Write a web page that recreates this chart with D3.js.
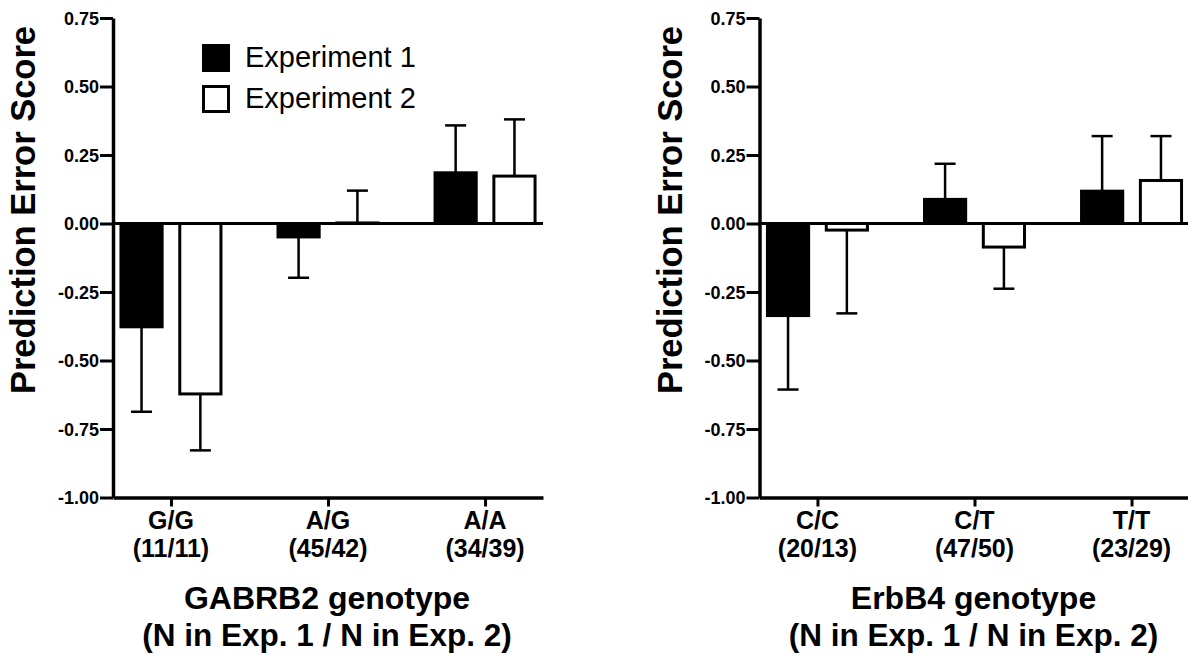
<!DOCTYPE html>
<html>
<head>
<meta charset="utf-8">
<script src="https://cdn.jsdelivr.net/npm/d3@7"></script>
<style>
  body { margin: 0; background: #fff; }
  svg text { font-family: "Liberation Sans", Arial, sans-serif; fill: #000; }
</style>
</head>
<body>
<svg id="chart" width="1188" height="657"></svg>
<script>
// -------------------- DATA --------------------
const series = ["Experiment 1", "Experiment 2"];
const yTicks = [-1.00, -0.75, -0.50, -0.25, 0.00, 0.25, 0.50, 0.75];

// GABRB2 panel
const gabrCats = ["G/G", "A/G", "A/A"];
const gabrN = ["(11/11)", "(45/42)", "(34/39)"];
const gabrExp1 = [-0.377, -0.049, 0.185];
const gabrExp1Err = [0.31, 0.149, 0.173];
const gabrExp2 = [-0.622, 0.002, 0.173];
const gabrExp2Err = [0.206, 0.118, 0.207];

// ErbB4 panel
const erbCats = ["C/C", "C/T", "T/T"];
const erbN = ["(20/13)", "(47/50)", "(23/29)"];
const erbExp1 = [-0.336, 0.088, 0.118];
const erbExp1Err = [0.27, 0.13, 0.201];
const erbExp2 = [-0.024, -0.086, 0.157];
const erbExp2Err = [0.304, 0.152, 0.162];

// -------------------- SVG --------------------
const svg = d3.select("#chart");
const y = d3.scaleLinear().domain([-1, 0.75]).range([497.5, 18]);
const sub = d3.scaleBand().domain(series).range([-50, 50]).paddingInner(0.3);

function drawPanel(opts) {
  const g = svg.append("g");
  const x = d3.scalePoint().domain(opts.cats).range([opts.x0, opts.x1]).padding(0.369);

  const rows = [];
  opts.cats.forEach((c, i) => {
    rows.push({ cat: c, s: series[0], v: opts.exp1[i], e: opts.exp1Err[i] });
    rows.push({ cat: c, s: series[1], v: opts.exp2[i], e: opts.exp2Err[i] });
  });

  // error bars (one-sided, away from zero)
  const eb = g.append("g")
    .selectAll("g")
    .data(rows)
    .enter()
    .append("g")
    .attr("transform", d => `translate(${x(d.cat) + sub(d.s) + sub.bandwidth() / 2},0)`);
  eb.append("line")
    .attr("y1", d => y(d.v))
    .attr("y2", d => y(d.v + Math.sign(d.v || 1) * d.e))
    .attr("stroke", "#000")
    .attr("stroke-width", 2.5);
  eb.append("line")
    .attr("x1", -10.5).attr("x2", 10.5)
    .attr("y1", d => y(d.v + Math.sign(d.v || 1) * d.e))
    .attr("y2", d => y(d.v + Math.sign(d.v || 1) * d.e))
    .attr("stroke", "#000")
    .attr("stroke-width", 2.5);

  // bars
  g.append("g")
    .selectAll("rect")
    .data(rows)
    .enter()
    .append("rect")
    .attr("x", d => x(d.cat) + sub(d.s))
    .attr("width", sub.bandwidth())
    .attr("y", d => Math.min(y(0), y(d.v)))
    .attr("height", d => Math.abs(y(d.v) - y(0)))
    .attr("fill", d => d.s === series[0] ? "#000" : "#fff")
    .attr("stroke", "#000")
    .attr("stroke-width", 3);

  // zero line
  g.append("line")
    .attr("x1", opts.x0).attr("x2", opts.x1)
    .attr("y1", y(0)).attr("y2", y(0))
    .attr("stroke", "#000")
    .attr("stroke-width", 3);

  // y axis
  const yAxis = g.append("g")
    .attr("transform", `translate(${opts.x0},0)`)
    .call(d3.axisLeft(y).tickValues(yTicks).tickFormat(d => d.toFixed(2)).tickSize(13).tickPadding(1).tickSizeOuter(0));
  yAxis.select(".domain").attr("stroke-width", 3.5);
  yAxis.selectAll(".tick line").attr("stroke-width", 3);
  yAxis.selectAll(".tick text")
    .style("font-size", "18px")
    .style("font-weight", "bold")
    .attr("dy", "0.36em");

  // x axis
  const xAxis = g.append("g")
    .attr("transform", `translate(0,${y(-1)})`)
    .call(d3.axisBottom(x).tickSize(9).tickSizeOuter(0).tickFormat(""));
  xAxis.select(".domain").attr("stroke-width", 3.5);
  xAxis.selectAll(".tick line").attr("stroke-width", 3);

  // category labels
  const lbl = g.append("g")
    .selectAll("text")
    .data(opts.cats)
    .enter()
    .append("text")
    .attr("text-anchor", "middle")
    .attr("x", d => x(d))
    .style("font-size", "25px")
    .style("font-weight", "bold");
  lbl.append("tspan").attr("x", d => x(d)).attr("y", 529).text(d => d);
  lbl.append("tspan").attr("x", d => x(d)).attr("y", 557).text((d, i) => opts.ns[i]);

  // x title
  const cx = (opts.x0 + opts.x1) / 2 - 1;
  g.append("text")
    .attr("text-anchor", "middle")
    .attr("x", cx).attr("y", 609)
    .style("font-size", "32px")
    .style("font-weight", "bold")
    .text(opts.title);
  g.append("text")
    .attr("text-anchor", "middle")
    .attr("x", cx).attr("y", 646)
    .style("font-size", "31.5px")
    .style("font-weight", "bold")
    .text("(N in Exp. 1 / N in Exp. 2)");

  // y title
  g.append("text")
    .attr("text-anchor", "middle")
    .attr("transform", `translate(${opts.x0 - 78},210) rotate(-90)`)
    .style("font-size", "34.5px")
    .style("font-weight", "bold")
    .text("Prediction Error Score");
}

drawPanel({ cats: gabrCats, ns: gabrN, exp1: gabrExp1, exp1Err: gabrExp1Err, exp2: gabrExp2, exp2Err: gabrExp2Err,
  x0: 113, x1: 543, title: "GABRB2 genotype" });
drawPanel({ cats: erbCats, ns: erbN, exp1: erbExp1, exp1Err: erbExp1Err, exp2: erbExp2, exp2Err: erbExp2Err,
  x0: 759.5, x1: 1189.5, title: "ErbB4 genotype" });

// -------------------- LEGEND --------------------
const legend = svg.append("g")
  .selectAll("g")
  .data(series)
  .enter()
  .append("g")
  .attr("transform", (d, i) => `translate(202,${44 + i * 41})`);
legend.append("rect")
  .attr("x", 1.5).attr("y", 1.5)
  .attr("width", 25).attr("height", 25)
  .attr("fill", (d, i) => i === 0 ? "#000" : "#fff")
  .attr("stroke", "#000")
  .attr("stroke-width", 3);
legend.append("text")
  .attr("x", 43).attr("y", 23)
  .style("font-size", "29px")
  .text(d => d);
</script>
</body>
</html>
